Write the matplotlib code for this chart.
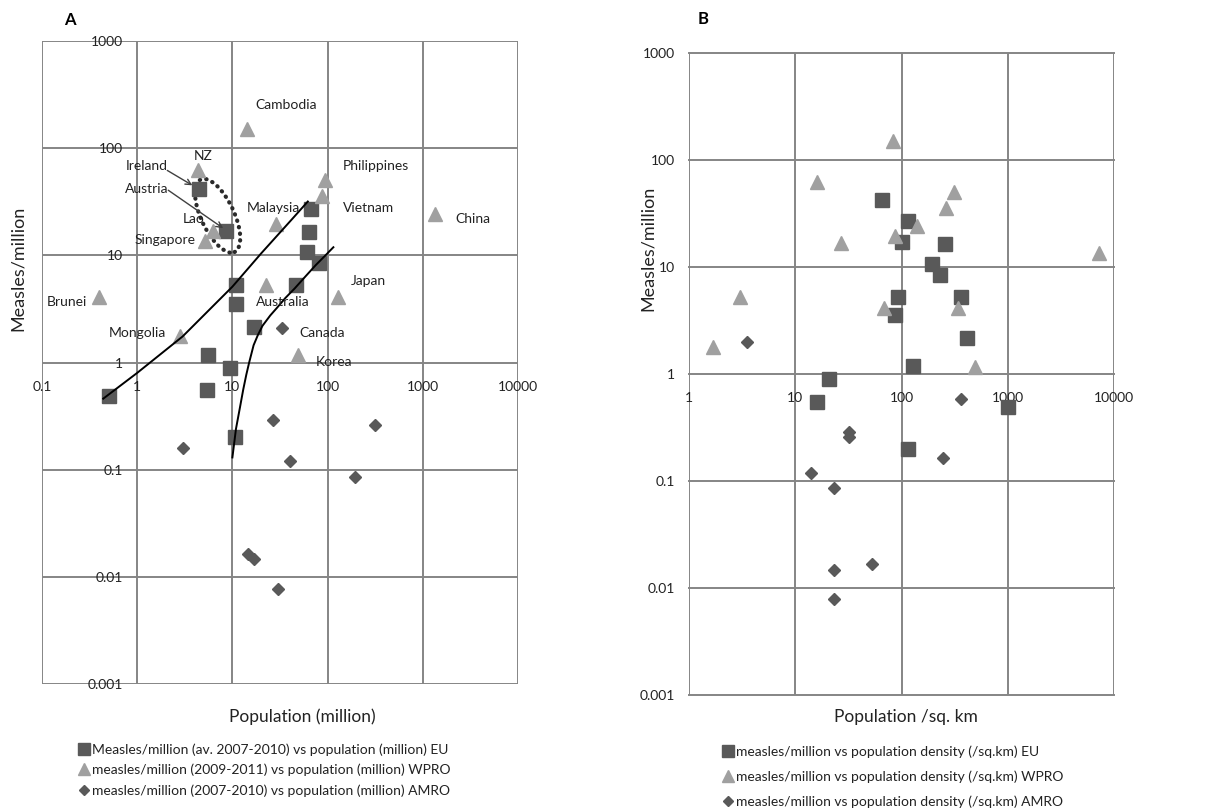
import matplotlib
matplotlib.use("Agg")
import matplotlib.pyplot as plt
from matplotlib.patches import Ellipse
from matplotlib import transforms

plt.rcParams['font.family'] = ['Lato', 'DejaVu Sans']

# EU: Ireland, Austria, France, UK, Italy, Germany, Belgium, Greece, Spain,
# Netherlands, Denmark, Sweden, Malta, Finland, Portugal
eu_pop = [4.5, 8.6, 67, 64, 61, 82, 11, 11, 47, 17, 5.6, 9.5, 0.5, 5.4, 10.7]
eu_density = [65, 101, 115, 256, 193, 230, 362, 87, 92, 412, 128, 21, 1000, 16, 115]
eu_rate = [42, 17, 27, 16.5, 10.7, 8.4, 5.3, 3.55, 5.3, 2.15, 1.18, 0.89, 0.49, 0.55, 0.2]

# WPRO
wpro_names = ['Cambodia', 'NZ', 'Philippines', 'Vietnam', 'China', 'Malaysia', 'Lao',
              'Singapore', 'Australia', 'Japan', 'Brunei', 'Mongolia', 'Korea']
wpro_pop = [14.3, 4.4, 94, 88, 1350, 29, 6.3, 5.1, 22.6, 129, 0.4, 2.8, 49]
wpro_density = [83, 16, 311, 262, 140, 87, 27, 7190, 3.0, 339, 68, 1.7, 490]
wpro_rate = [152, 62, 50, 35.5, 24.3, 19.5, 16.7, 13.6, 5.3, 4.1, 4.1, 1.78, 1.17]

# AMRO
amro_pop = [33, 27, 316, 3.0, 40, 195, 14.7, 17, 30]
amro_rate_a = [2.1, 0.29, 0.26, 0.16, 0.12, 0.086, 0.0164, 0.0147, 0.0077]
amro_density = [3.5, 362, 32, 32, 245, 14, 23, 53, 23, 23]
amro_rate_b = [2.0, 0.58, 0.29, 0.26, 0.164, 0.12, 0.086, 0.0168, 0.0147, 0.0079]

# trend lines drawn in panel A
trend1_x = [0.44, 1, 3, 10, 20, 42, 62]
trend1_y = [0.46, 0.8, 1.75, 5.1, 10.4, 21.6, 31.8]
trend2_x = [10, 10.9, 12, 13, 14, 15, 16.7, 18.5, 20.7, 25, 29.5, 36, 45, 58, 75, 95, 115]
trend2_y = [0.13, 0.24, 0.38, 0.56, 0.77, 1.0, 1.45, 1.8, 2.2, 2.75, 3.25, 4.0, 4.9,
            6.3, 8.1, 10.0, 11.9]

# country labels in panel A
label_a = ['Cambodia', 'NZ', 'Ireland', 'Austria', 'Philippines', 'Malaysia', 'Vietnam',
           'China', 'Lao', 'Singapore', 'Japan', 'Brunei', 'Australia', 'Mongolia',
           'Canada', 'Korea']
label_x = [36.7, 4.9, 1.26, 1.26, 324, 27, 267, 3383, 3.9, 1.97, 267, 0.184, 34, 1.0, 88, 117]
label_y = [252, 84, 68, 42, 68, 27.5, 27.5, 22, 22, 13.8, 5.8, 3.7, 3.7, 1.9, 1.9, 1.0]

ticks_a = [0.1, 1, 10, 100, 1000, 10000]
ticks_b = [1, 10, 100, 1000, 10000]
yticks = [0.001, 0.01, 0.1, 1, 10, 100, 1000]
tick_text = {0.001: '0.001', 0.01: '0.01', 0.1: '0.1', 1: '1', 10: '10',
             100: '100', 1000: '1000', 10000: '10000'}

legend_a = ['Measles/million (av. 2007-2010) vs population (million) EU',
            'measles/million (2009-2011) vs population (million) WPRO',
            'measles/million (2007-2010) vs population (million) AMRO']
legend_b = ['measles/million vs population density (/sq.km) EU',
            'measles/million vs population density (/sq.km) WPRO',
            'measles/million vs population density (/sq.km) AMRO']

dark = '#595959'
light = '#a0a0a0'
grid_c = '#858585'
txt = '#222222'

W, H = 1231, 811
fig = plt.figure(figsize=(W / 100, H / 100), dpi=100)
ax_a = fig.add_axes([42 / W, 1 - 684 / H, 476 / W, 643 / H])
ax_b = fig.add_axes([689 / W, 1 - 695 / H, 425 / W, 642 / H])


def style(ax, xt):
    ax.set_xscale('log')
    ax.set_yscale('log')
    ax.set_xlim(xt[0], xt[-1])
    ax.set_ylim(0.001, 1000)
    ax.set_xticks(xt, [tick_text[t] for t in xt])
    ax.set_yticks(yticks, [tick_text[t] for t in yticks])
    ax.minorticks_off()
    ax.set_axisbelow(True)
    ax.grid(True, color=grid_c, lw=1.4)
    for l in ax.get_xgridlines() + ax.get_ygridlines():
        l.set_clip_on(False)
    for s in ax.spines.values():
        s.set_visible(False)
    ax.spines['bottom'].set_position(('data', 1))
    ax.tick_params(axis='x', length=0, pad=13, labelsize=10, labelcolor=txt)
    ax.tick_params(axis='y', length=0, pad=10, labelsize=10, labelcolor=txt)


style(ax_a, ticks_a)
ax_a.spines['left'].set_position(('data', 1))
style(ax_b, ticks_b)

# panel A
h1, = ax_a.plot(eu_pop, eu_rate, 's', color=dark, ms=9.5, ls='none')
h2, = ax_a.plot(wpro_pop, wpro_rate, '^', color=light, ms=10, ls='none')
h3, = ax_a.plot(amro_pop, amro_rate_a, 'D', color=dark, ms=6.5, ls='none')
ax_a.plot(trend1_x, trend1_y, color='black', lw=1.4)
ax_a.plot(trend2_x, trend2_y, color='black', lw=1.4)

for name, x, y in zip(label_a, label_x, label_y):
    ax_a.text(x, y, name, ha='center', va='center', fontsize=10, color=txt)

ax_a.annotate('', xy=(3.8, 45), xytext=(2.07, 62),
              arrowprops=dict(arrowstyle='->', color='#404040', lw=1, shrinkA=0, shrinkB=0))
ax_a.annotate('', xy=(8.0, 17.9), xytext=(2.12, 40.5),
              arrowprops=dict(arrowstyle='->', color='#404040', lw=1, shrinkA=0, shrinkB=0))

# dotted loop around Ireland / Austria
loop_t = fig.dpi_scale_trans + transforms.ScaledTranslation(7.0, 23.4, ax_a.transData)
ax_a.add_patch(Ellipse((0, 0), 0.33, 0.80, angle=25, transform=loop_t, fill=False,
                       ec='#2a2a2a', lw=3.0, ls=(0, (0.1, 1.5)), capstyle='round'))

# panel B
g1, = ax_b.plot(eu_density, eu_rate, 's', color=dark, ms=9.5, ls='none')
g2, = ax_b.plot(wpro_density, wpro_rate, '^', color=light, ms=10, ls='none')
g3, = ax_b.plot(amro_density, amro_rate_b, 'D', color=dark, ms=6.5, ls='none')

fig.text(70 / W, 1 - 20 / H, 'A', fontsize=12, fontweight='bold', ha='center', va='center')
fig.text(703 / W, 1 - 19 / H, 'B', fontsize=12, fontweight='bold', ha='center', va='center')

fig.text(302 / W, 1 - 717 / H, 'Population (million)', fontsize=12.5, ha='center', va='center', color=txt)
fig.text(18 / W, 1 - 268 / H, 'Measles/million', fontsize=13, rotation=90, ha='center', va='center', color=txt)
fig.text(906 / W, 1 - 717 / H, 'Population /sq. km', fontsize=12.5, ha='center', va='center', color=txt)
fig.text(648 / W, 1 - 248 / H, 'Measles/million', fontsize=13, rotation=90, ha='center', va='center', color=txt)

leg_kw = dict(loc='upper left', bbox_transform=fig.transFigure, frameon=False, fontsize=10,
              handlelength=0.6, handletextpad=0.25, borderaxespad=0, borderpad=0,
              labelcolor=txt, markerscale=0.85)
ax_a.legend([h1, h2, h3], legend_a, bbox_to_anchor=(80 / W, 1 - 743 / H),
            labelspacing=0.58, **leg_kw)
ax_b.legend([g1, g2, g3], legend_b, bbox_to_anchor=(724 / W, 1 - 745 / H),
            labelspacing=0.92, **leg_kw)

fig.savefig('out.png', dpi=100, facecolor='white')
